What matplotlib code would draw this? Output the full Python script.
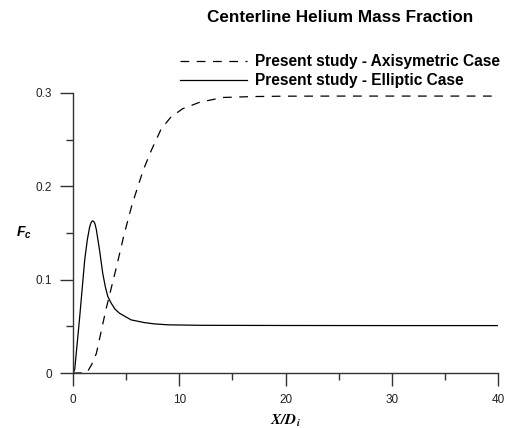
import numpy as np
import matplotlib
matplotlib.use('Agg')
from matplotlib import pyplot as plt
from matplotlib.ticker import MultipleLocator, FuncFormatter

plt.rcParams['font.family'] = ['Liberation Sans', 'DejaVu Sans']
plt.rcParams['mathtext.fontset'] = 'custom'
plt.rcParams['mathtext.bf'] = 'Liberation Sans:bold:italic'

# axisymmetric case (dashed)
x_axi = [0, 1.2, 1.4, 1.8, 2.2, 3.1, 4.1, 4.8, 5.5, 5.8, 6.6, 7.35, 8.3, 9.2, 10.3, 11.9, 14.1, 17, 20, 25, 30, 40]
f_axi = [0, 0, 0.002, 0.01, 0.021, 0.068, 0.114, 0.148, 0.178, 0.189, 0.217, 0.238, 0.2615, 0.274, 0.283, 0.29, 0.2952, 0.2962, 0.2966, 0.2967, 0.2967, 0.2967]

# elliptic case (solid)
x_ell = [0, 0.16, 0.63, 1.1, 1.35, 1.56, 1.68, 1.78, 1.87, 1.96, 2.07, 2.19, 2.5, 2.8, 3.05, 3.28, 3.6, 3.95, 4.38, 5.47, 6.72, 7.66, 9.0, 12, 20, 30, 40]
f_ell = [0, 0.0036, 0.06, 0.121, 0.143, 0.156, 0.1605, 0.1625, 0.163, 0.1622, 0.1598, 0.154, 0.1316, 0.1067, 0.092, 0.0818, 0.0747, 0.0685, 0.064, 0.0569, 0.054, 0.0526, 0.0516, 0.0511, 0.0509, 0.0508, 0.0508]

fig = plt.figure(figsize=(5.08, 4.28), dpi=100)
ax = fig.add_axes([73 / 508, 1 - 373 / 428, 425 / 508, 280 / 428])

ax.plot(x_axi, f_axi, color='black', lw=0.9, dashes=(7, 6),
        label='Present study - Axisymetric Case')
ax.plot(x_ell, f_ell, color='black', lw=0.9,
        label='Present study - Elliptic Case')

ax.set_xlim(0, 40)
ax.set_ylim(0, 0.3)
ax.xaxis.set_major_locator(MultipleLocator(10))
ax.xaxis.set_minor_locator(MultipleLocator(5))
ax.yaxis.set_major_locator(MultipleLocator(0.1))
ax.yaxis.set_minor_locator(MultipleLocator(0.05))
ax.yaxis.set_major_formatter(FuncFormatter(lambda v, p: '0' if abs(v) < 1e-9 else '%.1f' % v))

for s in ['top', 'right']:
    ax.spines[s].set_visible(False)
for s in ['left', 'bottom']:
    ax.spines[s].set_linewidth(1.0)
    ax.spines[s].set_color('#333333')

ax.tick_params(which='major', direction='out', length=9.5, width=1.0,
               color='#333333', labelsize=8.5, labelcolor='#222222', pad=5.5)
ax.tick_params(which='minor', direction='out', length=5, width=1.0, color='#333333')

ax.set_xlabel(r'$\mathbfit{X/D_i}$', math_fontfamily='stix', fontsize=11, labelpad=5)
ax.set_ylabel(r'$\mathbf{F_c}$', fontsize=10, rotation=0, va='center')
ax.yaxis.set_label_coords(-0.115, 0.5)

fig.text(340 / 508, 1 - 18 / 428, 'Centerline Helium Mass Fraction',
         ha='center', va='center', fontsize=12.3, fontweight='bold')

leg = ax.legend(loc='upper left', bbox_to_anchor=(180 / 508, 1 - 54 / 428),
                bbox_transform=fig.transFigure, frameon=False, borderpad=0,
                borderaxespad=0, handlelength=4.3, handletextpad=0.55,
                labelspacing=0.28, prop={'weight': 'bold', 'size': 11.2})

fig.savefig('out.png', dpi=100)
